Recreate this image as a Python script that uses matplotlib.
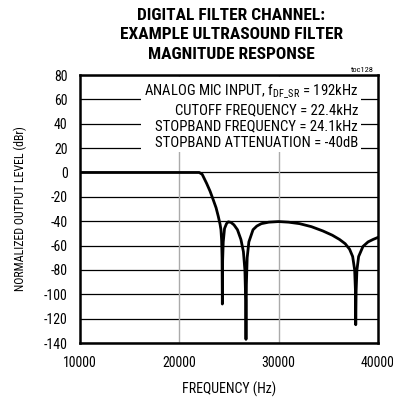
import matplotlib
matplotlib.use("Agg")
import matplotlib.pyplot as plt

# response curve (Hz, dB)
freq_hz = [10000, 16000, 22000, 22300, 22750, 23100, 23420, 23700, 23920, 24100,
           24190, 24260, 24300, 24330, 24360, 24420, 24550, 24750, 24930, 25200,
           25500, 25850, 26200, 26450, 26600, 26680, 26710, 26750, 26830, 27000,
           27420, 27800, 28260, 29000, 30000, 31000, 32100, 33300, 34450, 35400,
           36130, 36700, 37140, 37450, 37650, 37730, 37760, 37800, 37880, 38050,
           38490, 39000, 39500, 40000]
level_db = [0, 0, 0, -1.5, -9, -15.5, -22.6, -29, -36, -42.5,
            -47, -56, -70, -108, -72, -57, -46, -42, -40.5, -41,
            -43, -47, -55, -65, -80, -105, -137, -92, -70, -57,
            -47, -44, -42, -40.8, -40.3, -40.8, -42, -44.5, -48, -51.5,
            -55, -58.5, -63, -69, -80, -97, -125, -97, -80, -69,
            -60.7, -57, -55, -53.3]

x_ticks = [10000, 20000, 30000, 40000]
y_ticks = [80, 60, 40, 20, 0, -20, -40, -60, -80, -100, -120, -140]

title = "DIGITAL FILTER CHANNEL:\nEXAMPLE ULTRASOUND FILTER\nMAGNITUDE RESPONSE"
notes = [r"ANALOG MIC INPUT, f$_\mathregular{DF\_SR}$ = 192kHz",
         "CUTOFF FREQUENCY = 22.4kHz",
         "STOPBAND FREQUENCY = 24.1kHz",
         "STOPBAND ATTENUATION = -40dB"]

plt.rcParams["font.family"] = ["Roboto Condensed", "Archivo Narrow", "DejaVu Sans"]
plt.rcParams["axes.unicode_minus"] = False

fig = plt.figure(figsize=(3.93, 3.97), dpi=100)
ax = fig.add_axes([0.2036, 0.136, 0.7582, 0.675])

for y in y_ticks:
    ax.axhline(y, color="black", lw=0.9, zorder=1)
for x in [20000, 30000]:
    ax.axvline(x, color="#aaaaaa", lw=1.0, zorder=1)

ax.plot(freq_hz, level_db, color="black", lw=2.0, zorder=3)

ax.set_xlim(10000, 40000)
ax.set_ylim(-140, 80)
ax.set_xticks(x_ticks)
ax.set_yticks(y_ticks)
ax.tick_params(length=0, labelsize=10)
ax.tick_params(axis="y", pad=9)
ax.tick_params(axis="x", pad=9)
for s in ax.spines.values():
    s.set_linewidth(1.8)

ax.set_xlabel("FREQUENCY (Hz)", fontsize=10, labelpad=9)
ax.set_ylabel("NORMALIZED OUTPUT LEVEL (dBr)", fontsize=8.6, labelpad=12)

# one white box behind the notes block, which cuts the gridlines
ax.text(0.933, 0.971, "\n".join(notes), transform=ax.transAxes,
        ha="right", va="top", multialignment="right", fontsize=10.6,
        linespacing=1.2, zorder=2,
        bbox=dict(facecolor="white", edgecolor="none", pad=2.0))

ax.text(0.985, 1.006, "toc128", transform=ax.transAxes, ha="right", va="bottom",
        fontsize=6)

fig.text(0.588, 0.981, title, ha="center", va="top", fontsize=12.5,
         fontweight="bold", linespacing=1.4)

fig.savefig("out.png", dpi=100)
